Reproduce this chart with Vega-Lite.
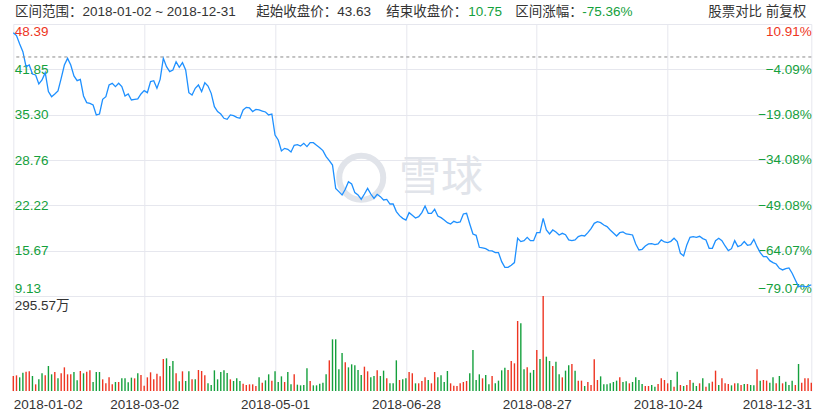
{
"$schema":"https://vega.github.io/schema/vega-lite/v6.json",
"padding":{"left":10.3,"top":5,"right":10,"bottom":5},
"bounds":"flush",
"spacing":0,
"background":"#ffffff",
"config":{"view":{"stroke":null},"axis":{"domain":false,"ticks":false,"grid":false,"title":null,"labelFont":"Liberation Sans, Noto Sans CJK SC","labelFontSize":13.5,"gridColor":"#e6e7ee","gridWidth":1}},
"data":{"values":[
{"d":"2018-01-02","c":47.14,"v":46.7,"s":"up"},
{"d":"2018-01-03","c":46.71,"v":48.7,"s":"up"},
{"d":"2018-01-04","c":45.51,"v":42.5,"s":"down"},
{"d":"2018-01-05","c":44.40,"v":57.0,"s":"down"},
{"d":"2018-01-08","c":42.23,"v":60.2,"s":"up"},
{"d":"2018-01-09","c":42.47,"v":61.2,"s":"up"},
{"d":"2018-01-10","c":41.17,"v":46.7,"s":"down"},
{"d":"2018-01-11","c":41.03,"v":20.7,"s":"up"},
{"d":"2018-01-12","c":39.73,"v":36.3,"s":"down"},
{"d":"2018-01-16","c":40.31,"v":55.0,"s":"down"},
{"d":"2018-01-17","c":41.37,"v":48.7,"s":"up"},
{"d":"2018-01-18","c":38.63,"v":77.8,"s":"down"},
{"d":"2018-01-19","c":37.90,"v":51.9,"s":"down"},
{"d":"2018-01-22","c":38.29,"v":59.1,"s":"up"},
{"d":"2018-01-23","c":38.72,"v":39.4,"s":"down"},
{"d":"2018-01-24","c":40.55,"v":55.0,"s":"up"},
{"d":"2018-01-25","c":42.47,"v":73.6,"s":"up"},
{"d":"2018-01-26","c":43.43,"v":51.9,"s":"up"},
{"d":"2018-01-29","c":42.47,"v":51.9,"s":"up"},
{"d":"2018-01-30","c":40.89,"v":59.1,"s":"down"},
{"d":"2018-01-31","c":40.21,"v":33.2,"s":"down"},
{"d":"2018-02-01","c":40.40,"v":62.2,"s":"up"},
{"d":"2018-02-02","c":38.00,"v":55.0,"s":"down"},
{"d":"2018-02-05","c":37.04,"v":60.2,"s":"up"},
{"d":"2018-02-06","c":36.94,"v":64.3,"s":"up"},
{"d":"2018-02-07","c":36.70,"v":28.0,"s":"down"},
{"d":"2018-02-08","c":35.26,"v":59.1,"s":"down"},
{"d":"2018-02-09","c":35.40,"v":59.1,"s":"down"},
{"d":"2018-02-12","c":37.52,"v":36.3,"s":"up"},
{"d":"2018-02-13","c":37.90,"v":23.9,"s":"up"},
{"d":"2018-02-14","c":39.59,"v":42.5,"s":"up"},
{"d":"2018-02-15","c":39.83,"v":20.7,"s":"up"},
{"d":"2018-02-16","c":39.35,"v":28.0,"s":"down"},
{"d":"2018-02-20","c":39.83,"v":28.0,"s":"up"},
{"d":"2018-02-21","c":39.35,"v":39.4,"s":"down"},
{"d":"2018-02-22","c":38.00,"v":39.4,"s":"down"},
{"d":"2018-02-23","c":38.29,"v":27.0,"s":"down"},
{"d":"2018-02-26","c":37.42,"v":41.5,"s":"down"},
{"d":"2018-02-27","c":37.52,"v":39.4,"s":"up"},
{"d":"2018-02-28","c":37.57,"v":55.0,"s":"down"},
{"d":"2018-03-01","c":38.29,"v":49.8,"s":"up"},
{"d":"2018-03-02","c":38.77,"v":16.6,"s":"up"},
{"d":"2018-03-05","c":38.48,"v":42.5,"s":"up"},
{"d":"2018-03-06","c":40.07,"v":58.1,"s":"up"},
{"d":"2018-03-07","c":40.21,"v":36.3,"s":"up"},
{"d":"2018-03-08","c":39.11,"v":53.9,"s":"up"},
{"d":"2018-03-09","c":40.40,"v":45.6,"s":"up"},
{"d":"2018-03-12","c":43.43,"v":99.6,"s":"up"},
{"d":"2018-03-13","c":42.23,"v":101.6,"s":"down"},
{"d":"2018-03-14","c":41.51,"v":77.8,"s":"down"},
{"d":"2018-03-15","c":41.75,"v":93.3,"s":"down"},
{"d":"2018-03-16","c":42.95,"v":55.0,"s":"up"},
{"d":"2018-03-19","c":42.14,"v":30.1,"s":"down"},
{"d":"2018-03-20","c":42.81,"v":61.2,"s":"up"},
{"d":"2018-03-21","c":41.75,"v":31.1,"s":"down"},
{"d":"2018-03-22","c":38.48,"v":61.2,"s":"down"},
{"d":"2018-03-23","c":38.14,"v":36.3,"s":"up"},
{"d":"2018-03-26","c":39.11,"v":36.3,"s":"down"},
{"d":"2018-03-27","c":39.59,"v":65.3,"s":"up"},
{"d":"2018-03-28","c":38.63,"v":62.2,"s":"up"},
{"d":"2018-03-29","c":39.92,"v":48.7,"s":"up"},
{"d":"2018-04-02","c":39.44,"v":23.9,"s":"down"},
{"d":"2018-04-03","c":38.38,"v":18.7,"s":"down"},
{"d":"2018-04-04","c":36.46,"v":64.3,"s":"down"},
{"d":"2018-04-05","c":35.74,"v":36.3,"s":"down"},
{"d":"2018-04-06","c":35.40,"v":59.1,"s":"down"},
{"d":"2018-04-09","c":34.78,"v":64.3,"s":"down"},
{"d":"2018-04-10","c":34.63,"v":56.0,"s":"down"},
{"d":"2018-04-11","c":35.26,"v":36.3,"s":"up"},
{"d":"2018-04-12","c":35.16,"v":31.1,"s":"down"},
{"d":"2018-04-13","c":34.92,"v":39.4,"s":"down"},
{"d":"2018-04-16","c":34.78,"v":31.1,"s":"down"},
{"d":"2018-04-17","c":35.98,"v":22.8,"s":"up"},
{"d":"2018-04-18","c":36.36,"v":18.7,"s":"up"},
{"d":"2018-04-19","c":36.27,"v":20.7,"s":"up"},
{"d":"2018-04-20","c":35.74,"v":20.7,"s":"up"},
{"d":"2018-04-23","c":36.07,"v":15.6,"s":"up"},
{"d":"2018-04-24","c":35.98,"v":42.5,"s":"down"},
{"d":"2018-04-25","c":35.83,"v":25.9,"s":"up"},
{"d":"2018-04-26","c":35.69,"v":33.2,"s":"down"},
{"d":"2018-04-27","c":35.26,"v":51.9,"s":"down"},
{"d":"2018-04-30","c":35.40,"v":32.2,"s":"up"},
{"d":"2018-05-01","c":32.37,"v":61.2,"s":"down"},
{"d":"2018-05-02","c":31.65,"v":28.0,"s":"down"},
{"d":"2018-05-03","c":30.06,"v":45.6,"s":"down"},
{"d":"2018-05-04","c":30.44,"v":28.0,"s":"up"},
{"d":"2018-05-07","c":30.30,"v":59.1,"s":"down"},
{"d":"2018-05-08","c":29.92,"v":20.7,"s":"down"},
{"d":"2018-05-09","c":30.88,"v":51.9,"s":"up"},
{"d":"2018-05-10","c":30.97,"v":19.7,"s":"down"},
{"d":"2018-05-11","c":30.78,"v":17.6,"s":"down"},
{"d":"2018-05-14","c":31.17,"v":18.7,"s":"down"},
{"d":"2018-05-15","c":30.69,"v":70.5,"s":"down"},
{"d":"2018-05-16","c":31.26,"v":31.1,"s":"up"},
{"d":"2018-05-17","c":31.26,"v":17.6,"s":"down"},
{"d":"2018-05-18","c":30.88,"v":17.6,"s":"down"},
{"d":"2018-05-21","c":30.54,"v":22.8,"s":"down"},
{"d":"2018-05-22","c":30.11,"v":25.9,"s":"down"},
{"d":"2018-05-23","c":29.24,"v":51.9,"s":"down"},
{"d":"2018-05-24","c":28.66,"v":95.4,"s":"up"},
{"d":"2018-05-25","c":28.04,"v":160.8,"s":"down"},
{"d":"2018-05-29","c":24.67,"v":160.8,"s":"down"},
{"d":"2018-05-30","c":24.19,"v":67.4,"s":"down"},
{"d":"2018-05-31","c":23.71,"v":118.2,"s":"down"},
{"d":"2018-06-01","c":24.53,"v":89.2,"s":"up"},
{"d":"2018-06-04","c":25.63,"v":73.6,"s":"down"},
{"d":"2018-06-05","c":25.30,"v":83.0,"s":"down"},
{"d":"2018-06-06","c":24.05,"v":79.9,"s":"down"},
{"d":"2018-06-07","c":23.71,"v":65.3,"s":"down"},
{"d":"2018-06-08","c":23.08,"v":49.8,"s":"down"},
{"d":"2018-06-11","c":23.85,"v":75.7,"s":"up"},
{"d":"2018-06-12","c":24.67,"v":61.2,"s":"up"},
{"d":"2018-06-13","c":23.85,"v":42.5,"s":"down"},
{"d":"2018-06-14","c":23.23,"v":46.7,"s":"down"},
{"d":"2018-06-15","c":23.81,"v":64.3,"s":"up"},
{"d":"2018-06-18","c":23.47,"v":46.7,"s":"down"},
{"d":"2018-06-19","c":22.99,"v":63.3,"s":"down"},
{"d":"2018-06-20","c":23.08,"v":39.4,"s":"up"},
{"d":"2018-06-21","c":22.41,"v":23.9,"s":"down"},
{"d":"2018-06-22","c":22.41,"v":23.9,"s":"down"},
{"d":"2018-06-25","c":21.31,"v":95.4,"s":"down"},
{"d":"2018-06-26","c":20.73,"v":34.2,"s":"up"},
{"d":"2018-06-27","c":20.34,"v":36.3,"s":"down"},
{"d":"2018-06-28","c":20.10,"v":39.4,"s":"down"},
{"d":"2018-06-29","c":21.16,"v":59.1,"s":"up"},
{"d":"2018-07-02","c":20.78,"v":55.0,"s":"up"},
{"d":"2018-07-03","c":20.39,"v":23.9,"s":"down"},
{"d":"2018-07-05","c":20.58,"v":23.9,"s":"up"},
{"d":"2018-07-06","c":21.16,"v":31.1,"s":"up"},
{"d":"2018-07-09","c":22.12,"v":42.5,"s":"up"},
{"d":"2018-07-10","c":21.06,"v":34.2,"s":"down"},
{"d":"2018-07-11","c":21.06,"v":23.9,"s":"up"},
{"d":"2018-07-12","c":21.64,"v":59.1,"s":"up"},
{"d":"2018-07-13","c":20.68,"v":42.5,"s":"down"},
{"d":"2018-07-16","c":20.44,"v":48.7,"s":"down"},
{"d":"2018-07-17","c":20.10,"v":28.0,"s":"down"},
{"d":"2018-07-18","c":19.72,"v":62.2,"s":"down"},
{"d":"2018-07-19","c":19.52,"v":23.9,"s":"up"},
{"d":"2018-07-20","c":19.91,"v":16.6,"s":"up"},
{"d":"2018-07-23","c":19.72,"v":15.6,"s":"up"},
{"d":"2018-07-24","c":19.81,"v":23.9,"s":"up"},
{"d":"2018-07-25","c":20.97,"v":28.0,"s":"up"},
{"d":"2018-07-26","c":21.06,"v":31.1,"s":"up"},
{"d":"2018-07-27","c":19.52,"v":55.0,"s":"down"},
{"d":"2018-07-30","c":18.08,"v":127.6,"s":"down"},
{"d":"2018-07-31","c":17.89,"v":34.2,"s":"down"},
{"d":"2018-08-01","c":16.16,"v":51.9,"s":"down"},
{"d":"2018-08-02","c":16.06,"v":39.4,"s":"up"},
{"d":"2018-08-03","c":15.96,"v":49.8,"s":"down"},
{"d":"2018-08-06","c":15.68,"v":20.7,"s":"down"},
{"d":"2018-08-07","c":15.63,"v":46.7,"s":"up"},
{"d":"2018-08-08","c":15.39,"v":23.9,"s":"down"},
{"d":"2018-08-09","c":15.39,"v":32.2,"s":"down"},
{"d":"2018-08-10","c":14.09,"v":64.3,"s":"down"},
{"d":"2018-08-13","c":13.27,"v":72.6,"s":"down"},
{"d":"2018-08-14","c":13.27,"v":65.3,"s":"up"},
{"d":"2018-08-15","c":13.56,"v":93.3,"s":"up"},
{"d":"2018-08-16","c":13.95,"v":86.1,"s":"up"},
{"d":"2018-08-17","c":17.46,"v":217.8,"s":"up"},
{"d":"2018-08-20","c":16.98,"v":210.5,"s":"down"},
{"d":"2018-08-21","c":17.12,"v":67.4,"s":"down"},
{"d":"2018-08-22","c":17.60,"v":73.6,"s":"up"},
{"d":"2018-08-23","c":17.12,"v":57.0,"s":"down"},
{"d":"2018-08-24","c":17.12,"v":65.3,"s":"down"},
{"d":"2018-08-27","c":18.27,"v":127.6,"s":"up"},
{"d":"2018-08-28","c":18.27,"v":99.6,"s":"down"},
{"d":"2018-08-29","c":20.34,"v":295.57,"s":"up"},
{"d":"2018-08-30","c":18.66,"v":106.8,"s":"down"},
{"d":"2018-08-31","c":18.08,"v":93.3,"s":"down"},
{"d":"2018-09-04","c":18.66,"v":77.8,"s":"up"},
{"d":"2018-09-05","c":18.37,"v":91.3,"s":"down"},
{"d":"2018-09-06","c":17.94,"v":51.9,"s":"down"},
{"d":"2018-09-07","c":18.18,"v":42.5,"s":"up"},
{"d":"2018-09-10","c":17.98,"v":63.3,"s":"down"},
{"d":"2018-09-11","c":17.22,"v":79.9,"s":"down"},
{"d":"2018-09-12","c":17.12,"v":84.0,"s":"up"},
{"d":"2018-09-13","c":17.22,"v":63.3,"s":"down"},
{"d":"2018-09-14","c":17.70,"v":32.2,"s":"up"},
{"d":"2018-09-17","c":17.89,"v":32.2,"s":"up"},
{"d":"2018-09-18","c":17.79,"v":15.6,"s":"down"},
{"d":"2018-09-19","c":18.27,"v":28.0,"s":"up"},
{"d":"2018-09-20","c":18.85,"v":18.7,"s":"up"},
{"d":"2018-09-21","c":19.62,"v":98.5,"s":"up"},
{"d":"2018-09-24","c":19.86,"v":34.2,"s":"up"},
{"d":"2018-09-25","c":19.72,"v":45.6,"s":"down"},
{"d":"2018-09-26","c":19.38,"v":20.7,"s":"down"},
{"d":"2018-09-27","c":19.14,"v":20.7,"s":"down"},
{"d":"2018-09-28","c":18.66,"v":23.9,"s":"down"},
{"d":"2018-10-01","c":18.23,"v":28.0,"s":"down"},
{"d":"2018-10-02","c":17.79,"v":32.2,"s":"down"},
{"d":"2018-10-03","c":18.27,"v":42.5,"s":"up"},
{"d":"2018-10-04","c":18.37,"v":28.0,"s":"down"},
{"d":"2018-10-05","c":18.08,"v":30.1,"s":"down"},
{"d":"2018-10-08","c":18.03,"v":23.9,"s":"up"},
{"d":"2018-10-09","c":17.94,"v":28.0,"s":"down"},
{"d":"2018-10-10","c":16.64,"v":42.5,"s":"down"},
{"d":"2018-10-11","c":15.77,"v":34.2,"s":"down"},
{"d":"2018-10-12","c":15.87,"v":21.8,"s":"down"},
{"d":"2018-10-15","c":16.35,"v":15.6,"s":"up"},
{"d":"2018-10-16","c":16.64,"v":15.6,"s":"up"},
{"d":"2018-10-17","c":16.69,"v":18.7,"s":"down"},
{"d":"2018-10-18","c":16.54,"v":13.5,"s":"down"},
{"d":"2018-10-19","c":16.64,"v":21.8,"s":"up"},
{"d":"2018-10-22","c":17.22,"v":39.4,"s":"up"},
{"d":"2018-10-23","c":16.93,"v":34.2,"s":"up"},
{"d":"2018-10-24","c":16.83,"v":23.9,"s":"up"},
{"d":"2018-10-25","c":17.02,"v":34.2,"s":"down"},
{"d":"2018-10-26","c":17.46,"v":13.5,"s":"up"},
{"d":"2018-10-29","c":16.98,"v":60.2,"s":"down"},
{"d":"2018-10-30","c":15.29,"v":18.7,"s":"up"},
{"d":"2018-10-31","c":14.91,"v":15.6,"s":"down"},
{"d":"2018-11-01","c":16.50,"v":18.7,"s":"up"},
{"d":"2018-11-02","c":17.60,"v":34.2,"s":"up"},
{"d":"2018-11-05","c":17.70,"v":25.9,"s":"down"},
{"d":"2018-11-06","c":17.60,"v":15.6,"s":"down"},
{"d":"2018-11-07","c":17.75,"v":23.9,"s":"up"},
{"d":"2018-11-08","c":17.41,"v":39.4,"s":"down"},
{"d":"2018-11-09","c":17.22,"v":13.5,"s":"up"},
{"d":"2018-11-12","c":16.01,"v":23.9,"s":"down"},
{"d":"2018-11-13","c":16.01,"v":29.0,"s":"up"},
{"d":"2018-11-14","c":17.12,"v":63.3,"s":"up"},
{"d":"2018-11-15","c":17.46,"v":18.7,"s":"down"},
{"d":"2018-11-16","c":17.12,"v":39.4,"s":"up"},
{"d":"2018-11-19","c":16.35,"v":23.9,"s":"up"},
{"d":"2018-11-20","c":15.68,"v":21.8,"s":"up"},
{"d":"2018-11-21","c":15.96,"v":17.6,"s":"down"},
{"d":"2018-11-23","c":17.12,"v":23.9,"s":"up"},
{"d":"2018-11-26","c":16.25,"v":23.9,"s":"down"},
{"d":"2018-11-27","c":16.45,"v":18.7,"s":"up"},
{"d":"2018-11-28","c":16.98,"v":21.8,"s":"down"},
{"d":"2018-11-29","c":16.45,"v":21.8,"s":"up"},
{"d":"2018-11-30","c":16.54,"v":18.7,"s":"down"},
{"d":"2018-12-03","c":17.31,"v":17.6,"s":"down"},
{"d":"2018-12-04","c":16.25,"v":67.4,"s":"up"},
{"d":"2018-12-06","c":15.39,"v":32.2,"s":"down"},
{"d":"2018-12-07","c":14.81,"v":34.2,"s":"up"},
{"d":"2018-12-10","c":14.81,"v":32.2,"s":"up"},
{"d":"2018-12-11","c":14.23,"v":25.9,"s":"down"},
{"d":"2018-12-12","c":13.95,"v":42.5,"s":"down"},
{"d":"2018-12-13","c":13.75,"v":23.9,"s":"up"},
{"d":"2018-12-14","c":13.13,"v":46.7,"s":"down"},
{"d":"2018-12-17","c":12.89,"v":23.9,"s":"up"},
{"d":"2018-12-18","c":13.08,"v":29.0,"s":"down"},
{"d":"2018-12-19","c":13.18,"v":18.7,"s":"down"},
{"d":"2018-12-20","c":12.41,"v":32.2,"s":"down"},
{"d":"2018-12-21","c":11.45,"v":18.7,"s":"up"},
{"d":"2018-12-24","c":10.48,"v":84.0,"s":"down"},
{"d":"2018-12-26","c":10.58,"v":25.9,"s":"up"},
{"d":"2018-12-27","c":10.48,"v":39.4,"s":"up"},
{"d":"2018-12-28","c":10.53,"v":39.4,"s":"up"},
{"d":"2018-12-31","c":10.75,"v":25.9,"s":"up"}
]},
"vconcat":[
{
"width":798,"height":272,
"layer":[
{"layer":[
{"data":{"values":[{}]},"mark":{"type":"point","shape":"circle","size":1936,"filled":false,"stroke":"#e1e4ea","strokeWidth":6,"opacity":1},
 "encoding":{"x":{"datum":"2018-06-08","type":"ordinal"},"y":{"datum":26.2,"type":"quantitative"}}},
{"data":{"values":[{}]},"mark":{"type":"text","text":"雪球","font":"Noto Sans CJK SC","fontSize":42,"color":"#e1e4ea","align":"center","baseline":"middle"},
 "encoding":{"x":{"datum":"2018-07-16","type":"ordinal"},"y":{"datum":26.2,"type":"quantitative"}}},
{"mark":{"type":"line","color":"#1e90ff","strokeWidth":1.3},
 "encoding":{
  "x":{"field":"d","type":"ordinal","scale":{"type":"point","padding":0},"axis":{"values":["2018-01-02","2018-03-02","2018-05-01","2018-06-28","2018-08-27","2018-10-24","2018-12-31"],"grid":true,"labels":false,"title":null}},
  "y":{"field":"c","type":"quantitative","scale":{"domain":[9.13,48.39],"nice":false,"zero":false},
   "axis":{"orient":"left","values":[9.13,15.67,22.22,28.76,35.3,41.85,48.39],"format":".2f","grid":true,"labelAlign":"left","labelPadding":-1,"labelFlush":true,"title":null,
    "labelColor":{"condition":{"test":"datum.value > 43.63","value":"#ee3522"},"value":"#14a03c"}}}}},
{"data":{"values":[{}]},"mark":{"type":"text","text":"区间范围：2018-01-02 ~ 2018-12-31","font":"Liberation Sans, Noto Sans CJK SC","fontSize":13.5,"color":"#333333","align":"left","baseline":"top","dx":1.7,"dy":-19},
 "encoding":{"x":{"datum":"2018-01-02","type":"ordinal"},"y":{"datum":48.39,"type":"quantitative"}}},
{"data":{"values":[{}]},"mark":{"type":"text","text":"起始收盘价：43.63","font":"Liberation Sans, Noto Sans CJK SC","fontSize":13.5,"color":"#333333","align":"left","baseline":"top","dx":243,"dy":-19},
 "encoding":{"x":{"datum":"2018-01-02","type":"ordinal"},"y":{"datum":48.39,"type":"quantitative"}}},
{"data":{"values":[{}]},"mark":{"type":"text","text":"结束收盘价：","font":"Liberation Sans, Noto Sans CJK SC","fontSize":13.5,"color":"#333333","align":"left","baseline":"top","dx":373,"dy":-19},
 "encoding":{"x":{"datum":"2018-01-02","type":"ordinal"},"y":{"datum":48.39,"type":"quantitative"}}},
{"data":{"values":[{}]},"mark":{"type":"text","text":"10.75","font":"Liberation Sans, Noto Sans CJK SC","fontSize":13.5,"color":"#14a03c","align":"left","baseline":"top","dx":455,"dy":-19},
 "encoding":{"x":{"datum":"2018-01-02","type":"ordinal"},"y":{"datum":48.39,"type":"quantitative"}}},
{"data":{"values":[{}]},"mark":{"type":"text","text":"区间涨幅：","font":"Liberation Sans, Noto Sans CJK SC","fontSize":13.5,"color":"#333333","align":"left","baseline":"top","dx":502,"dy":-19},
 "encoding":{"x":{"datum":"2018-01-02","type":"ordinal"},"y":{"datum":48.39,"type":"quantitative"}}},
{"data":{"values":[{}]},"mark":{"type":"text","text":"-75.36%","font":"Liberation Sans, Noto Sans CJK SC","fontSize":13.5,"color":"#14a03c","align":"left","baseline":"top","dx":569,"dy":-19},
 "encoding":{"x":{"datum":"2018-01-02","type":"ordinal"},"y":{"datum":48.39,"type":"quantitative"}}},
{"data":{"values":[{}]},"mark":{"type":"text","text":"股票对比 前复权","font":"Liberation Sans, Noto Sans CJK SC","fontSize":13.5,"color":"#333333","align":"right","baseline":"top","dx":-5,"dy":-19},
 "encoding":{"x":{"datum":"2018-12-31","type":"ordinal"},"y":{"datum":48.39,"type":"quantitative"}}}
]},
{"data":{"values":[{}]},"mark":{"type":"rule","color":"#8a8a8a","strokeDash":[3,3],"strokeWidth":1},
 "encoding":{"y":{"datum":0,"type":"quantitative","scale":{"domain":[-0.79074,0.1091],"nice":false,"zero":false},
  "axis":{"orient":"right","values":[-0.7907,-0.6407,-0.4908,-0.3408,-0.1908,-0.0409,0.1091],"format":".2%","grid":false,"labelAlign":"right","labelPadding":0,"labelFlush":true,"title":null,
   "labelColor":{"condition":{"test":"datum.value > 0","value":"#ee3522"},"value":"#14a03c"}}}}}
],
"resolve":{"scale":{"y":"independent"}}
},
{
"width":798,"height":95,
"mark":{"type":"bar","size":1.4},
"encoding":{
 "x":{"field":"d","type":"ordinal","scale":{"type":"point","padding":0},"axis":{"values":["2018-01-02","2018-03-02","2018-05-01","2018-06-28","2018-08-27","2018-10-24","2018-12-31"],"grid":true,"labelFlush":true,"labelPadding":7,"labelAngle":0,"labelColor":"#333333","title":null}},
 "y":{"field":"v","type":"quantitative","scale":{"domain":[0,295.57],"nice":false},"axis":{"orient":"left","values":[295.57],"format":".2f","labelExpr":"datum.label + '万'","labelAlign":"left","labelPadding":-1,"labelBaseline":"top","labelOffset":3,"labelColor":"#333333","grid":false,"title":null}},
 "color":{"field":"s","type":"nominal","scale":{"domain":["up","down"],"range":["#ee3522","#14a03c"]},"legend":null}
}
}
]
}
